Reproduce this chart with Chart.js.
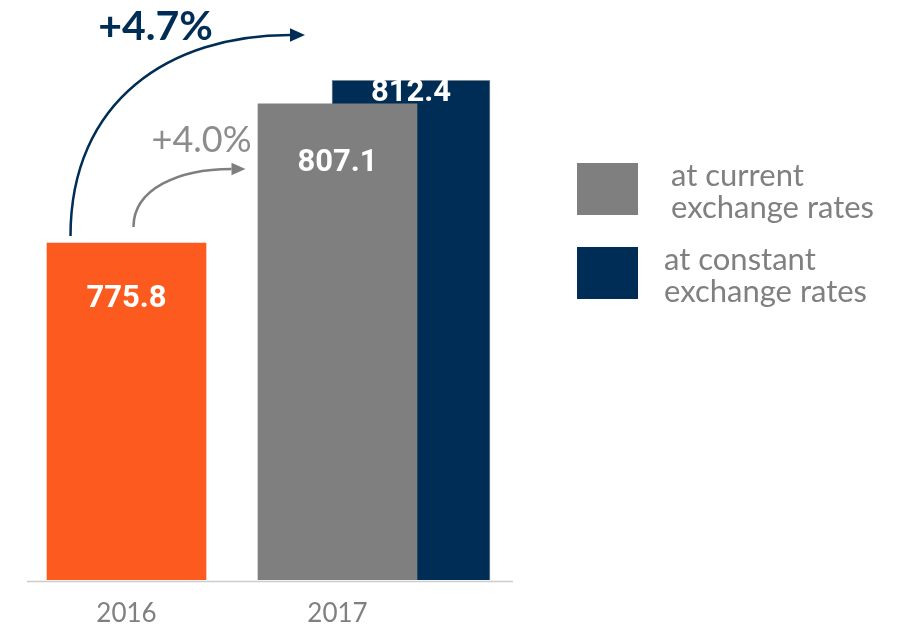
<!DOCTYPE html>
<html>
<head>
<meta charset="utf-8">
<title>Sales 2016 - 2017</title>
<script src="https://cdn.jsdelivr.net/npm/chart.js@4.4.1/dist/chart.umd.min.js"></script>
<style>
  body { margin: 0; background: #fff; }
  canvas { display: block; }
</style>
</head>
<body>
<canvas id="salesChart" width="904" height="625"></canvas>
<script>
const years = ["2016", "2017"];
const sales2016 = [775.8, null];
const currentRates = [null, 807.1];
const constantRates = [null, 812.4];
const seriesNames = [["at current", "exchange rates"], ["at constant", "exchange rates"]];

const ORANGE = "#fc5a1e";
const GREY = "#7f7f7f";
const NAVY = "#002d55";
const TEXT_GREY = "#808080";

// the constant-rate bar sits behind the current-rate one, pushed to the right
const navyShift = 73.5;

function growth(v) {
  return "+" + ((v / sales2016[0] - 1) * 100).toFixed(1) + "%";
}

function curvedArrow(ctx, p0, c1, c2, p3, color, width, head) {
  ctx.save();
  ctx.strokeStyle = color;
  ctx.fillStyle = color;
  ctx.lineWidth = width;
  ctx.beginPath();
  ctx.moveTo(p0[0], p0[1]);
  ctx.bezierCurveTo(c1[0], c1[1], c2[0], c2[1], p3[0] - head, p3[1]);
  ctx.stroke();
  ctx.beginPath();
  ctx.moveTo(p3[0], p3[1]);
  ctx.lineTo(p3[0] - head, p3[1] - head * 0.45);
  ctx.lineTo(p3[0] - head, p3[1] + head * 0.45);
  ctx.closePath();
  ctx.fill();
  ctx.restore();
}

const shiftPlugin = {
  id: "shiftNavy",
  beforeDatasetDraw(chart, args) {
    if (args.index === 2) {
      chart.ctx.save();
      chart.ctx.translate(navyShift, 0);
    }
  },
  afterDatasetDraw(chart, args) {
    if (args.index === 2) chart.ctx.restore();
  },
};

const decorPlugin = {
  id: "decor",
  afterDatasetsDraw(chart) {
    const ctx = chart.ctx;
    const area = chart.chartArea;
    const orange = chart.getDatasetMeta(0).data[0];
    const grey = chart.getDatasetMeta(1).data[1];
    const navy = chart.getDatasetMeta(2).data[1];

    // baseline
    ctx.save();
    ctx.strokeStyle = "#cccccc";
    ctx.lineWidth = 1.5;
    ctx.beginPath();
    ctx.moveTo(area.left + 6, area.bottom + 1.5);
    ctx.lineTo(area.right + 70, area.bottom + 1.5);
    ctx.stroke();

    // values inside bars
    ctx.fillStyle = "#ffffff";
    ctx.textAlign = "center";
    ctx.textBaseline = "middle";
    ctx.font = "bold 31px Roboto";
    ctx.fillText(sales2016[0].toFixed(1), orange.x, orange.y + 56);
    ctx.fillText(currentRates[1].toFixed(1), grey.x, grey.y + 59);
    ctx.fillText(constantRates[1].toFixed(1), navy.x + navyShift, navy.y + 13);

    // growth arrows
    const sx = orange.x - 56, sy = orange.y - 7;
    const ex = navy.x + navyShift - 106, ey = 35;
    curvedArrow(ctx, [sx, sy], [sx, 100], [sx + 100, ey], [ex, ey], NAVY, 2.5, 15);
    const gx = orange.x + 7, gy = orange.y - 16;
    const gex = grey.x - 92, gey = orange.y - 74;
    curvedArrow(ctx, [gx, gy], [gx, gey + 20], [gx + 45, gey], [gex, gey], GREY, 2.5, 14);

    ctx.textBaseline = "alphabetic";
    ctx.font = "bold 41px Lato";
    ctx.fillStyle = NAVY;
    ctx.fillText(growth(constantRates[1]), orange.x + 29, ey + 5);
    ctx.font = "36px Lato";
    ctx.fillStyle = "#8c8c8c";
    ctx.fillText(growth(currentRates[1]), orange.x + 75, gey - 17);

    // legend
    const swatches = [GREY, NAVY];
    const boxTop = [163, 247];
    const textX = [671, 664];
    ctx.textAlign = "left";
    ctx.font = "31px Lato";
    swatches.forEach((c, i) => {
      ctx.fillStyle = c;
      ctx.fillRect(577, boxTop[i], 61, 52);
      ctx.fillStyle = TEXT_GREY;
      seriesNames[i].forEach((line, j) => {
        ctx.fillText(line, textX[i], boxTop[i] + 23 + j * 32);
      });
    });
    ctx.restore();
  },
};

new Chart(document.getElementById("salesChart"), {
  type: "bar",
  data: {
    labels: years,
    datasets: [
      { label: "2016", data: sales2016, backgroundColor: ORANGE, grouped: false, barThickness: 159 },
      { label: seriesNames[0].join(" "), data: currentRates, backgroundColor: GREY, grouped: false, barThickness: 159 },
      {
        label: seriesNames[1].join(" "),
        data: constantRates,
        backgroundColor: NAVY,
        borderColor: "#7d8792",
        borderWidth: 1,
        grouped: false,
        barThickness: 158,
      },
    ],
  },
  options: {
    responsive: false,
    animation: false,
    layout: { padding: { top: 42, left: 21, right: 461, bottom: 0 } },
    plugins: { legend: { display: false }, tooltip: { enabled: false } },
    scales: {
      x: {
        grid: { display: false, drawTicks: false },
        border: { display: false },
        ticks: { color: TEXT_GREY, font: { family: "Lato", size: 26 }, padding: 18 },
        afterFit: (s) => { s.height = 45; },
      },
      y: { display: false, min: 700, max: 821 },
    },
  },
  plugins: [shiftPlugin, decorPlugin],
});
</script>
</body>
</html>
